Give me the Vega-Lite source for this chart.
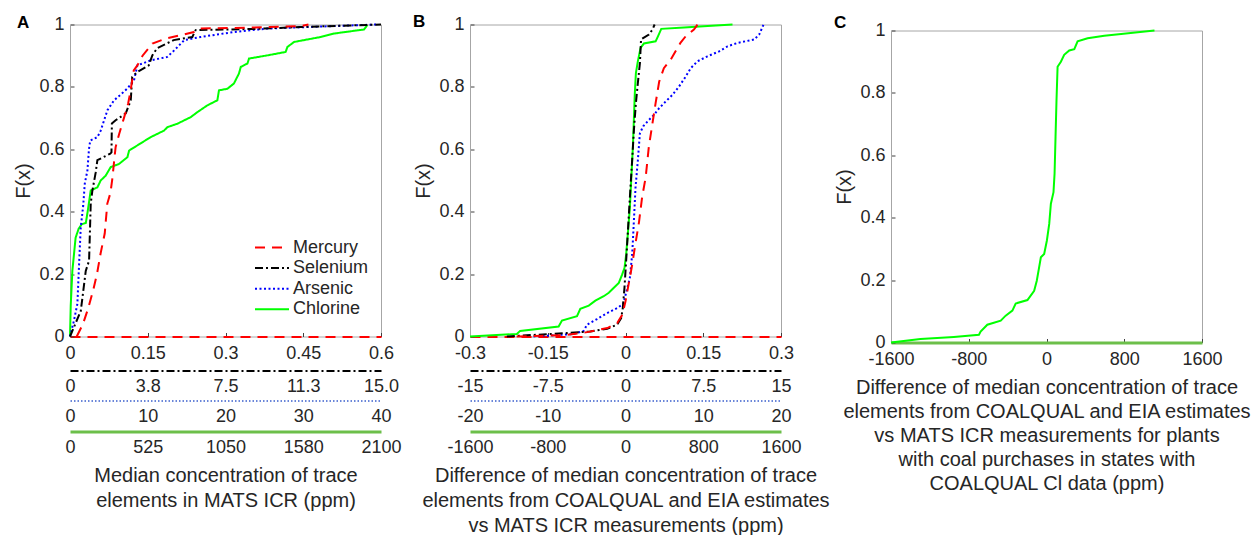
{
  "$schema": "https://vega.github.io/schema/vega-lite/v6.json",
  "padding": {"left": 13, "top": 11.5, "right": 5, "bottom": 5},
  "background": "white",
  "datasets": {
    "A": [
      {"s":"Mercury","x":0.013,"F":0},{"s":"Mercury","x":0.025,"F":0.04},{"s":"Mercury","x":0.035,"F":0.09},{"s":"Mercury","x":0.045,"F":0.15},{"s":"Mercury","x":0.052,"F":0.2},{"s":"Mercury","x":0.059,"F":0.266},{"s":"Mercury","x":0.067,"F":0.33},{"s":"Mercury","x":0.072,"F":0.426},{"s":"Mercury","x":0.078,"F":0.46},{"s":"Mercury","x":0.082,"F":0.51},{"s":"Mercury","x":0.085,"F":0.56},{"s":"Mercury","x":0.088,"F":0.607},{"s":"Mercury","x":0.095,"F":0.65},{"s":"Mercury","x":0.104,"F":0.7},{"s":"Mercury","x":0.112,"F":0.745},{"s":"Mercury","x":0.116,"F":0.78},{"s":"Mercury","x":0.12,"F":0.821},{"s":"Mercury","x":0.123,"F":0.853},{"s":"Mercury","x":0.13,"F":0.869},{"s":"Mercury","x":0.14,"F":0.9},{"s":"Mercury","x":0.159,"F":0.939},{"s":"Mercury","x":0.185,"F":0.955},{"s":"Mercury","x":0.214,"F":0.966},{"s":"Mercury","x":0.239,"F":0.976},{"s":"Mercury","x":0.252,"F":0.987},{"s":"Mercury","x":0.35,"F":0.99},{"s":"Mercury","x":0.445,"F":0.995},{"s":"Mercury","x":0.46,"F":1},
      {"s":"Selenium","x":0,"F":0},{"s":"Selenium","x":0.52,"F":0.082},{"s":"Selenium","x":0.76,"F":0.21},{"s":"Selenium","x":0.92,"F":0.243},{"s":"Selenium","x":1.0,"F":0.426},{"s":"Selenium","x":1.08,"F":0.468},{"s":"Selenium","x":1.24,"F":0.526},{"s":"Selenium","x":1.32,"F":0.565},{"s":"Selenium","x":1.94,"F":0.586},{"s":"Selenium","x":2.0,"F":0.59},{"s":"Selenium","x":2.02,"F":0.683},{"s":"Selenium","x":2.2,"F":0.693},{"s":"Selenium","x":2.69,"F":0.715},{"s":"Selenium","x":2.93,"F":0.757},{"s":"Selenium","x":3.0,"F":0.832},{"s":"Selenium","x":3.25,"F":0.848},{"s":"Selenium","x":3.8,"F":0.869},{"s":"Selenium","x":3.97,"F":0.901},{"s":"Selenium","x":4.2,"F":0.924},{"s":"Selenium","x":5.0,"F":0.95},{"s":"Selenium","x":5.9,"F":0.96},{"s":"Selenium","x":6.06,"F":0.982},{"s":"Selenium","x":9.0,"F":0.986},{"s":"Selenium","x":11.1,"F":0.992},{"s":"Selenium","x":15,"F":1},
      {"s":"Arsenic","x":0,"F":0},{"s":"Arsenic","x":0.5,"F":0.05},{"s":"Arsenic","x":0.95,"F":0.105},{"s":"Arsenic","x":1.2,"F":0.25},{"s":"Arsenic","x":1.38,"F":0.349},{"s":"Arsenic","x":1.7,"F":0.42},{"s":"Arsenic","x":1.9,"F":0.49},{"s":"Arsenic","x":2.24,"F":0.532},{"s":"Arsenic","x":2.44,"F":0.6},{"s":"Arsenic","x":2.6,"F":0.628},{"s":"Arsenic","x":3.52,"F":0.639},{"s":"Arsenic","x":3.95,"F":0.66},{"s":"Arsenic","x":4.81,"F":0.725},{"s":"Arsenic","x":5.66,"F":0.757},{"s":"Arsenic","x":6.5,"F":0.775},{"s":"Arsenic","x":7.38,"F":0.795},{"s":"Arsenic","x":8.23,"F":0.821},{"s":"Arsenic","x":8.67,"F":0.869},{"s":"Arsenic","x":10.38,"F":0.885},{"s":"Arsenic","x":12.5,"F":0.896},{"s":"Arsenic","x":13.4,"F":0.917},{"s":"Arsenic","x":14.7,"F":0.95},{"s":"Arsenic","x":16.8,"F":0.96},{"s":"Arsenic","x":21.1,"F":0.976},{"s":"Arsenic","x":25.4,"F":0.987},{"s":"Arsenic","x":33.9,"F":0.995},{"s":"Arsenic","x":39.5,"F":1},
      {"s":"Chlorine","x":0,"F":0},{"s":"Chlorine","x":5,"F":0.1},{"s":"Chlorine","x":16,"F":0.211},{"s":"Chlorine","x":38,"F":0.317},{"s":"Chlorine","x":59,"F":0.346},{"s":"Chlorine","x":80,"F":0.36},{"s":"Chlorine","x":107,"F":0.364},{"s":"Chlorine","x":120,"F":0.403},{"s":"Chlorine","x":140,"F":0.468},{"s":"Chlorine","x":185,"F":0.478},{"s":"Chlorine","x":207,"F":0.5},{"s":"Chlorine","x":240,"F":0.515},{"s":"Chlorine","x":275,"F":0.543},{"s":"Chlorine","x":331,"F":0.553},{"s":"Chlorine","x":388,"F":0.575},{"s":"Chlorine","x":399,"F":0.596},{"s":"Chlorine","x":477,"F":0.619},{"s":"Chlorine","x":545,"F":0.639},{"s":"Chlorine","x":635,"F":0.66},{"s":"Chlorine","x":658,"F":0.671},{"s":"Chlorine","x":725,"F":0.682},{"s":"Chlorine","x":815,"F":0.703},{"s":"Chlorine","x":860,"F":0.719},{"s":"Chlorine","x":928,"F":0.741},{"s":"Chlorine","x":995,"F":0.757},{"s":"Chlorine","x":1006,"F":0.789},{"s":"Chlorine","x":1063,"F":0.794},{"s":"Chlorine","x":1107,"F":0.811},{"s":"Chlorine","x":1141,"F":0.843},{"s":"Chlorine","x":1153,"F":0.864},{"s":"Chlorine","x":1198,"F":0.875},{"s":"Chlorine","x":1209,"F":0.891},{"s":"Chlorine","x":1333,"F":0.901},{"s":"Chlorine","x":1456,"F":0.912},{"s":"Chlorine","x":1468,"F":0.928},{"s":"Chlorine","x":1513,"F":0.944},{"s":"Chlorine","x":1693,"F":0.96},{"s":"Chlorine","x":1783,"F":0.971},{"s":"Chlorine","x":1985,"F":0.984},{"s":"Chlorine","x":2008,"F":0.998}
    ],
    "B": [
      {"s":"Mercury","x":-0.21,"F":0},{"s":"Mercury","x":-0.113,"F":0.005},{"s":"Mercury","x":-0.074,"F":0.014},{"s":"Mercury","x":-0.035,"F":0.027},{"s":"Mercury","x":-0.016,"F":0.043},{"s":"Mercury","x":-0.006,"F":0.07},{"s":"Mercury","x":0.0,"F":0.113},{"s":"Mercury","x":0.006,"F":0.167},{"s":"Mercury","x":0.013,"F":0.231},{"s":"Mercury","x":0.019,"F":0.296},{"s":"Mercury","x":0.026,"F":0.366},{"s":"Mercury","x":0.032,"F":0.446},{"s":"Mercury","x":0.039,"F":0.511},{"s":"Mercury","x":0.045,"F":0.608},{"s":"Mercury","x":0.052,"F":0.683},{"s":"Mercury","x":0.058,"F":0.747},{"s":"Mercury","x":0.065,"F":0.817},{"s":"Mercury","x":0.074,"F":0.86},{"s":"Mercury","x":0.087,"F":0.887},{"s":"Mercury","x":0.106,"F":0.941},{"s":"Mercury","x":0.116,"F":0.962},{"s":"Mercury","x":0.132,"F":0.984},{"s":"Mercury","x":0.139,"F":1},
      {"s":"Selenium","x":-11.45,"F":0},{"s":"Selenium","x":-8.87,"F":0.005},{"s":"Selenium","x":-5.65,"F":0.011},{"s":"Selenium","x":-3.39,"F":0.016},{"s":"Selenium","x":-1.77,"F":0.025},{"s":"Selenium","x":-0.81,"F":0.038},{"s":"Selenium","x":-0.42,"F":0.059},{"s":"Selenium","x":-0.26,"F":0.091},{"s":"Selenium","x":-0.1,"F":0.156},{"s":"Selenium","x":0.1,"F":0.263},{"s":"Selenium","x":0.29,"F":0.371},{"s":"Selenium","x":0.48,"F":0.478},{"s":"Selenium","x":0.68,"F":0.586},{"s":"Selenium","x":0.81,"F":0.661},{"s":"Selenium","x":1.0,"F":0.747},{"s":"Selenium","x":1.19,"F":0.812},{"s":"Selenium","x":1.39,"F":0.876},{"s":"Selenium","x":1.5,"F":0.952},{"s":"Selenium","x":2.26,"F":0.968},{"s":"Selenium","x":2.61,"F":0.984},{"s":"Selenium","x":2.81,"F":1},
      {"s":"Arsenic","x":-11.83,"F":0},{"s":"Arsenic","x":-6.67,"F":0.008},{"s":"Arsenic","x":-5.38,"F":0.018},{"s":"Arsenic","x":-4.95,"F":0.038},{"s":"Arsenic","x":-3.66,"F":0.056},{"s":"Arsenic","x":-2.37,"F":0.075},{"s":"Arsenic","x":-1.08,"F":0.091},{"s":"Arsenic","x":-0.3,"F":0.104},{"s":"Arsenic","x":0.13,"F":0.145},{"s":"Arsenic","x":0.56,"F":0.188},{"s":"Arsenic","x":0.86,"F":0.263},{"s":"Arsenic","x":1.08,"F":0.371},{"s":"Arsenic","x":1.29,"F":0.478},{"s":"Arsenic","x":1.59,"F":0.565},{"s":"Arsenic","x":1.85,"F":0.651},{"s":"Arsenic","x":2.28,"F":0.674},{"s":"Arsenic","x":3.01,"F":0.694},{"s":"Arsenic","x":3.66,"F":0.71},{"s":"Arsenic","x":4.3,"F":0.731},{"s":"Arsenic","x":5.16,"F":0.753},{"s":"Arsenic","x":6.02,"F":0.774},{"s":"Arsenic","x":6.88,"F":0.801},{"s":"Arsenic","x":7.74,"F":0.833},{"s":"Arsenic","x":8.39,"F":0.86},{"s":"Arsenic","x":9.25,"F":0.882},{"s":"Arsenic","x":10.54,"F":0.898},{"s":"Arsenic","x":12.04,"F":0.914},{"s":"Arsenic","x":13.12,"F":0.93},{"s":"Arsenic","x":14.41,"F":0.941},{"s":"Arsenic","x":16.56,"F":0.952},{"s":"Arsenic","x":17.2,"F":0.968},{"s":"Arsenic","x":17.76,"F":1},
      {"s":"Chlorine","x":-1600,"F":0},{"s":"Chlorine","x":-1118,"F":0.008},{"s":"Chlorine","x":-1084,"F":0.018},{"s":"Chlorine","x":-688,"F":0.032},{"s":"Chlorine","x":-654,"F":0.051},{"s":"Chlorine","x":-499,"F":0.065},{"s":"Chlorine","x":-465,"F":0.089},{"s":"Chlorine","x":-378,"F":0.099},{"s":"Chlorine","x":-310,"F":0.115},{"s":"Chlorine","x":-224,"F":0.129},{"s":"Chlorine","x":-172,"F":0.14},{"s":"Chlorine","x":-120,"F":0.156},{"s":"Chlorine","x":-69,"F":0.172},{"s":"Chlorine","x":-34,"F":0.199},{"s":"Chlorine","x":-10,"F":0.22},{"s":"Chlorine","x":7,"F":0.263},{"s":"Chlorine","x":24,"F":0.328},{"s":"Chlorine","x":45,"F":0.414},{"s":"Chlorine","x":62,"F":0.522},{"s":"Chlorine","x":76,"F":0.608},{"s":"Chlorine","x":86,"F":0.694},{"s":"Chlorine","x":96,"F":0.78},{"s":"Chlorine","x":107,"F":0.844},{"s":"Chlorine","x":127,"F":0.882},{"s":"Chlorine","x":155,"F":0.925},{"s":"Chlorine","x":189,"F":0.939},{"s":"Chlorine","x":310,"F":0.946},{"s":"Chlorine","x":334,"F":0.962},{"s":"Chlorine","x":368,"F":0.986},{"s":"Chlorine","x":602,"F":0.99},{"s":"Chlorine","x":845,"F":0.995},{"s":"Chlorine","x":1101,"F":1}
    ],
    "C": [
      {"x":-1600,"F":0},{"x":-1297,"F":0.011},{"x":-953,"F":0.018},{"x":-695,"F":0.025},{"x":-678,"F":0.035},{"x":-609,"F":0.057},{"x":-471,"F":0.07},{"x":-420,"F":0.086},{"x":-351,"F":0.102},{"x":-317,"F":0.125},{"x":-196,"F":0.136},{"x":-127,"F":0.166},{"x":-100,"F":0.198},{"x":-76,"F":0.241},{"x":-58,"F":0.273},{"x":-24,"F":0.284},{"x":4,"F":0.327},{"x":28,"F":0.38},{"x":45,"F":0.445},{"x":72,"F":0.482},{"x":83,"F":0.541},{"x":93,"F":0.659},{"x":103,"F":0.777},{"x":114,"F":0.884},{"x":148,"F":0.9},{"x":182,"F":0.922},{"x":234,"F":0.936},{"x":286,"F":0.94},{"x":320,"F":0.965},{"x":423,"F":0.975},{"x":595,"F":0.983},{"x":768,"F":0.989},{"x":1111,"F":1}
    ]
  },
  "hconcat": [
    {
      "title": {"text": "A", "anchor": "start", "frame": "group", "dx": -53, "offset": -29, "baseline": "alphabetic", "fontSize": 17, "fontWeight": "bold", "font": "Liberation Sans", "color": "#000000"},
      "width": 311, "height": 312,
      "view": {"stroke": "#a6a6a6"},
      "data": {"name": "A"},
      "layer": [
        {
          "transform": [{"filter": "datum.s == 'Chlorine'"}],
          "mark": {"type": "line", "strokeWidth": 2},
          "encoding": {
            "x": {"field": "x", "type": "quantitative", "scale": {"domain": [0, 2100], "nice": false, "zero": false},
              "axis": {"orient": "bottom", "offset": 95, "values": [0, 525, 1050, 1575, 2100], "labelExpr": "datum.value == 1575 ? '1580' : datum.value + ''", "domainColor": "#6cbf4a", "domainWidth": 3, "ticks": false, "labelPadding": 7,
                "title": ["Median concentration of trace", "elements in MATS ICR (ppm)"], "titlePadding": 9, "titleLineHeight": 25}},
            "y": {"field": "F", "type": "quantitative", "scale": {"domain": [0, 1], "nice": false},
              "axis": {"values": [0, 0.2, 0.4, 0.6, 0.8, 1], "labelExpr": "datum.value + ''", "title": "F(x)", "tickSize": -4, "labelPadding": 10, "titlePadding": 5}},
            "color": {"field": "s", "type": "nominal", "scale": {"domain": ["Mercury", "Selenium", "Arsenic", "Chlorine"], "range": ["#ff0000", "#000000", "#0000ff", "#00ff00"]},
              "legend": {"orient": "none", "legendX": 191, "legendY": 212, "title": null, "padding": 0, "symbolType": "M-1.7,0H1.7", "symbolSize": 400, "symbolStrokeWidth": 2, "labelOffset": 10, "rowPadding": 0.6}},
            "strokeDash": {"field": "s", "type": "nominal", "scale": {"domain": ["Mercury", "Selenium", "Arsenic", "Chlorine"], "range": [[10, 7], [8, 3, 2, 3], [2, 2.5], [1, 0]]},
              "legend": {"orient": "none", "legendX": 191, "legendY": 212, "title": null, "padding": 0, "symbolType": "M-1.7,0H1.7", "symbolSize": 400, "symbolStrokeWidth": 2, "labelOffset": 10, "rowPadding": 0.6}},
            "order": {"field": "F", "type": "quantitative"}
          }
        },
        {
          "transform": [{"filter": "datum.s == 'Arsenic'"}],
          "mark": {"type": "line", "strokeWidth": 2},
          "encoding": {
            "x": {"field": "x", "type": "quantitative", "scale": {"domain": [0, 40], "nice": false, "zero": false},
              "axis": {"orient": "bottom", "offset": 64, "values": [0, 10, 20, 30, 40], "labelExpr": "datum.value + ''", "domainColor": "#3a5fcd", "domainDash": [1.5, 2], "domainWidth": 1.5, "ticks": false, "labelPadding": 7, "title": null}},
            "y": {"field": "F", "type": "quantitative", "scale": {"domain": [0, 1], "nice": false}},
            "color": {"field": "s", "type": "nominal", "scale": {"domain": ["Mercury", "Selenium", "Arsenic", "Chlorine"], "range": ["#ff0000", "#000000", "#0000ff", "#00ff00"]}},
            "strokeDash": {"field": "s", "type": "nominal", "scale": {"domain": ["Mercury", "Selenium", "Arsenic", "Chlorine"], "range": [[10, 7], [8, 3, 2, 3], [2, 2.5], [1, 0]]}},
            "order": {"field": "F", "type": "quantitative"}
          }
        },
        {
          "transform": [{"filter": "datum.s == 'Selenium'"}],
          "mark": {"type": "line", "strokeWidth": 2},
          "encoding": {
            "x": {"field": "x", "type": "quantitative", "scale": {"domain": [0, 15], "nice": false, "zero": false},
              "axis": {"orient": "bottom", "offset": 34, "values": [0, 3.75, 7.5, 11.25, 15], "labelExpr": "datum.value == 0 ? '0' : format(datum.value, '.1f')", "domainColor": "#000000", "domainDash": [8, 3, 2, 3], "domainWidth": 2, "ticks": false, "labelPadding": 7, "title": null}},
            "y": {"field": "F", "type": "quantitative", "scale": {"domain": [0, 1], "nice": false}},
            "color": {"field": "s", "type": "nominal", "scale": {"domain": ["Mercury", "Selenium", "Arsenic", "Chlorine"], "range": ["#ff0000", "#000000", "#0000ff", "#00ff00"]}},
            "strokeDash": {"field": "s", "type": "nominal", "scale": {"domain": ["Mercury", "Selenium", "Arsenic", "Chlorine"], "range": [[10, 7], [8, 3, 2, 3], [2, 2.5], [1, 0]]}},
            "order": {"field": "F", "type": "quantitative"}
          }
        },
        {
          "transform": [{"filter": "datum.s == 'Mercury'"}],
          "mark": {"type": "line", "strokeWidth": 2},
          "encoding": {
            "x": {"field": "x", "type": "quantitative", "scale": {"domain": [0, 0.6], "nice": false, "zero": false},
              "axis": {"orient": "bottom", "offset": 0, "values": [0, 0.15, 0.3, 0.45, 0.6], "labelExpr": "datum.value + ''", "title": null, "domainColor": "#ff0000", "domainDash": [10, 7], "domainWidth": 2, "tickSize": -4, "labelPadding": 11.5}},
            "y": {"field": "F", "type": "quantitative", "scale": {"domain": [0, 1], "nice": false}},
            "color": {"field": "s", "type": "nominal", "scale": {"domain": ["Mercury", "Selenium", "Arsenic", "Chlorine"], "range": ["#ff0000", "#000000", "#0000ff", "#00ff00"]}},
            "strokeDash": {"field": "s", "type": "nominal", "scale": {"domain": ["Mercury", "Selenium", "Arsenic", "Chlorine"], "range": [[10, 7], [8, 3, 2, 3], [2, 2.5], [1, 0]]}},
            "order": {"field": "F", "type": "quantitative"}
          }
        }
      ],
      "resolve": {"scale": {"x": "independent"}, "axis": {"x": "independent"}}
    },
    {
      "title": {"text": "B", "anchor": "start", "frame": "group", "dx": -57, "offset": -28, "baseline": "alphabetic", "fontSize": 17, "fontWeight": "bold", "font": "Liberation Sans", "color": "#000000"},
      "width": 311, "height": 312,
      "view": {"stroke": "#a6a6a6"},
      "data": {"name": "B"},
      "layer": [
        {
          "transform": [{"filter": "datum.s == 'Chlorine'"}],
          "mark": {"type": "line", "strokeWidth": 2, "color": "#00ff00"},
          "encoding": {
            "x": {"field": "x", "type": "quantitative", "scale": {"domain": [-1600, 1600], "nice": false, "zero": false},
              "axis": {"orient": "bottom", "offset": 95, "values": [-1600, -800, 0, 800, 1600], "labelExpr": "datum.value + ''", "domainColor": "#6cbf4a", "domainWidth": 3, "ticks": false, "labelPadding": 7,
                "title": ["Difference of median concentration of trace", "elements from COALQUAL and EIA estimates", "vs MATS ICR measurements (ppm)"], "titlePadding": 9, "titleLineHeight": 25}},
            "y": {"field": "F", "type": "quantitative", "scale": {"domain": [0, 1], "nice": false},
              "axis": {"values": [0, 0.2, 0.4, 0.6, 0.8, 1], "labelExpr": "datum.value + ''", "title": "F(x)", "tickSize": -4, "labelPadding": 10, "titlePadding": 5}},
            "order": {"field": "F", "type": "quantitative"}
          }
        },
        {
          "transform": [{"filter": "datum.s == 'Arsenic'"}],
          "mark": {"type": "line", "strokeWidth": 2, "color": "#0000ff", "strokeDash": [2, 2.5]},
          "encoding": {
            "x": {"field": "x", "type": "quantitative", "scale": {"domain": [-20, 20], "nice": false, "zero": false},
              "axis": {"orient": "bottom", "offset": 64, "values": [-20, -10, 0, 10, 20], "labelExpr": "datum.value + ''", "domainColor": "#3a5fcd", "domainDash": [1.5, 2], "domainWidth": 1.5, "ticks": false, "labelPadding": 7, "title": null}},
            "y": {"field": "F", "type": "quantitative", "scale": {"domain": [0, 1], "nice": false}},
            "order": {"field": "F", "type": "quantitative"}
          }
        },
        {
          "transform": [{"filter": "datum.s == 'Selenium'"}],
          "mark": {"type": "line", "strokeWidth": 2, "color": "#000000", "strokeDash": [8, 3, 2, 3]},
          "encoding": {
            "x": {"field": "x", "type": "quantitative", "scale": {"domain": [-15, 15], "nice": false, "zero": false},
              "axis": {"orient": "bottom", "offset": 34, "values": [-15, -7.5, 0, 7.5, 15], "labelExpr": "datum.value + ''", "domainColor": "#000000", "domainDash": [8, 3, 2, 3], "domainWidth": 2, "ticks": false, "labelPadding": 7, "title": null}},
            "y": {"field": "F", "type": "quantitative", "scale": {"domain": [0, 1], "nice": false}},
            "order": {"field": "F", "type": "quantitative"}
          }
        },
        {
          "transform": [{"filter": "datum.s == 'Mercury'"}],
          "mark": {"type": "line", "strokeWidth": 2, "color": "#ff0000", "strokeDash": [10, 7]},
          "encoding": {
            "x": {"field": "x", "type": "quantitative", "scale": {"domain": [-0.3, 0.3], "nice": false, "zero": false},
              "axis": {"orient": "bottom", "offset": 0, "values": [-0.3, -0.15, 0, 0.15, 0.3], "labelExpr": "datum.value + ''", "title": null, "domainColor": "#ff0000", "domainDash": [10, 7], "domainWidth": 2, "tickSize": -4, "labelPadding": 11.5}},
            "y": {"field": "F", "type": "quantitative", "scale": {"domain": [0, 1], "nice": false}},
            "order": {"field": "F", "type": "quantitative"}
          }
        }
      ],
      "resolve": {"scale": {"x": "independent"}, "axis": {"x": "independent"}}
    },
    {
      "hconcat": [
        {
          "width": 21, "height": 1,
          "data": {"values": []},
          "mark": {"type": "rule"},
          "encoding": {}
        },
        {
          "vconcat": [
            {
              "width": 311, "height": 6,
              "data": {"values": []},
              "mark": {"type": "rule"},
              "encoding": {}
            },
            {
              "title": {"text": "C", "anchor": "start", "frame": "group", "dx": -57, "offset": -23, "baseline": "alphabetic", "fontSize": 17, "fontWeight": "bold", "font": "Liberation Sans", "color": "#000000"},
              "width": 311, "height": 312,
              "view": {"stroke": "#a6a6a6"},
              "data": {"name": "C"},
              "mark": {"type": "line", "strokeWidth": 2, "color": "#00ff00"},
              "encoding": {
                "x": {"field": "x", "type": "quantitative", "scale": {"domain": [-1600, 1600], "nice": false, "zero": false},
                  "axis": {"values": [-1600, -800, 0, 800, 1600], "labelExpr": "datum.value + ''", "domainColor": "#6cbf4a", "domainWidth": 3, "tickSize": -4, "labelPadding": 12,
                    "title": ["Difference of median concentration of trace", "elements from COALQUAL and EIA estimates", "vs MATS ICR measurements for plants", "with coal purchases in states with", "COALQUAL Cl data (ppm)"], "titlePadding": 9, "titleLineHeight": 24}},
                "y": {"field": "F", "type": "quantitative", "scale": {"domain": [0, 1], "nice": false},
                  "axis": {"values": [0, 0.2, 0.4, 0.6, 0.8, 1], "labelExpr": "datum.value + ''", "title": "F(x)", "tickSize": -4, "labelPadding": 10, "titlePadding": 5}},
                "order": {"field": "F", "type": "quantitative"}
              }
            }
          ],
          "spacing": 0,
          "bounds": "flush"
        }
      ],
      "spacing": 0,
      "bounds": "flush"
    }
  ],
  "spacing": 89,
  "bounds": "flush",
  "config": {
    "font": "Liberation Sans",
    "view": {"stroke": null},
    "axis": {"grid": false, "labelFont": "Liberation Sans", "labelFontSize": 18, "labelColor": "#262626", "titleFont": "Liberation Sans", "titleFontSize": 20, "titleFontWeight": "normal", "titleColor": "#262626", "domainColor": "#a6a6a6", "tickColor": "#404040", "labelFlush": false, "labelOverlap": false, "labelBound": false},
    "legend": {"labelFont": "Liberation Sans", "labelFontSize": 18, "labelColor": "#262626"}
  }
}
